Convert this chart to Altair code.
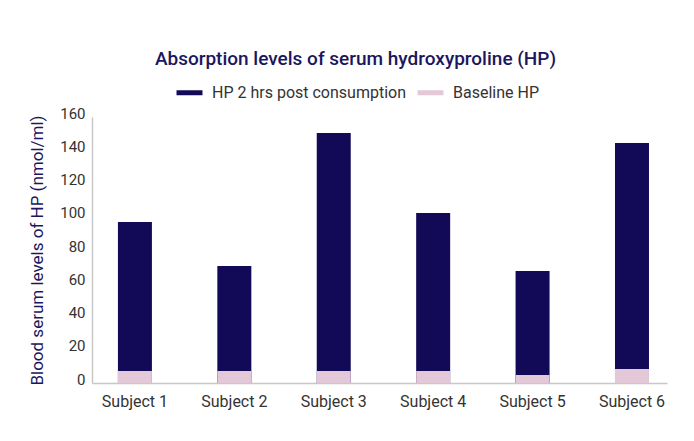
import altair as alt
import pandas as pd

subjects = ["Subject 1", "Subject 2", "Subject 3", "Subject 4", "Subject 5", "Subject 6"]
post_values = [96.8, 70.4, 150.4, 102.3, 67.4, 144.4]
baseline_values = [7.2, 7.2, 7.2, 7.2, 4.8, 8.4]
series = ["HP 2 hrs post consumption", "Baseline HP"]
colors = ["#130a57", "#e3c8d8"]
y_ticks = [0, 20, 40, 60, 80, 100, 120, 140, 160]

rows = []
for s, v in zip(subjects, post_values):
    rows.append({"subject": s, "series": series[0], "value": v})
for s, v in zip(subjects, baseline_values):
    rows.append({"subject": s, "series": series[1], "value": v})
df = pd.DataFrame(rows)

FONT = "Roboto"
NAVY = "#1b1660"

color_scale = alt.Scale(domain=series, range=colors)
legend = alt.Legend(
    title=None,
    orient="none",
    legendX=82,
    legendY=-40,
    direction="horizontal",
    symbolType="stroke",
    symbolSize=676,
    symbolStrokeWidth=5,
    labelFontSize=16,
    labelColor="#333333",
    labelFont=FONT,
    labelLimit=0,
    columnPadding=1,
    labelOffset=7,
)

chart = alt.Chart(df).mark_bar(strokeWidth=0).encode(
    x=alt.X(
        "subject:N",
        sort=subjects,
        scale=alt.Scale(paddingInner=0.658, paddingOuter=0.221, align=0.59),
        axis=alt.Axis(
            title=None,
            labelAngle=0,
            ticks=False,
            domainColor="#c8c8c8",
            domainWidth=1.5,
            labelFontSize=16,
            labelColor="#333333",
            labelFont=FONT,
            labelPadding=10,
        ),
    ),
    y=alt.Y(
        "value:Q",
        stack=None,
        scale=alt.Scale(domain=[0, 160]),
        axis=alt.Axis(
            values=y_ticks,
            grid=False,
            ticks=False,
            domainColor="#c8c8c8",
            domainWidth=1.5,
            labelFontSize=15,
            labelColor="#333333",
            labelFont=FONT,
            labelPadding=7,
            labelOffset=-4,
            title="Blood serum levels of HP (nmol/ml)",
            titleColor=NAVY,
            titleFont=FONT,
            titleFontSize=17,
            titleFontWeight="normal",
            titlePadding=13,
        ),
    ),
    color=alt.Color("series:N", scale=color_scale, sort=series, legend=legend),
    stroke=alt.Stroke("series:N", scale=color_scale, sort=series, legend=legend),
).properties(
    width=575,
    height=266,
    title=alt.TitleParams(
        "Absorption levels of serum hydroxyproline (HP)",
        font=FONT,
        fontSize=19,
        fontWeight=500,
        color=NAVY,
        anchor="middle",
        dx=-24,
        offset=8,
    ),
    padding={"left": 84, "top": 109, "right": 19, "bottom": 40},
    autosize=alt.AutoSizeParams(type="none"),
    background="white",
).configure_view(stroke=None)

chart.save("out.html", embed_options={"renderer": "svg", "actions": False})
